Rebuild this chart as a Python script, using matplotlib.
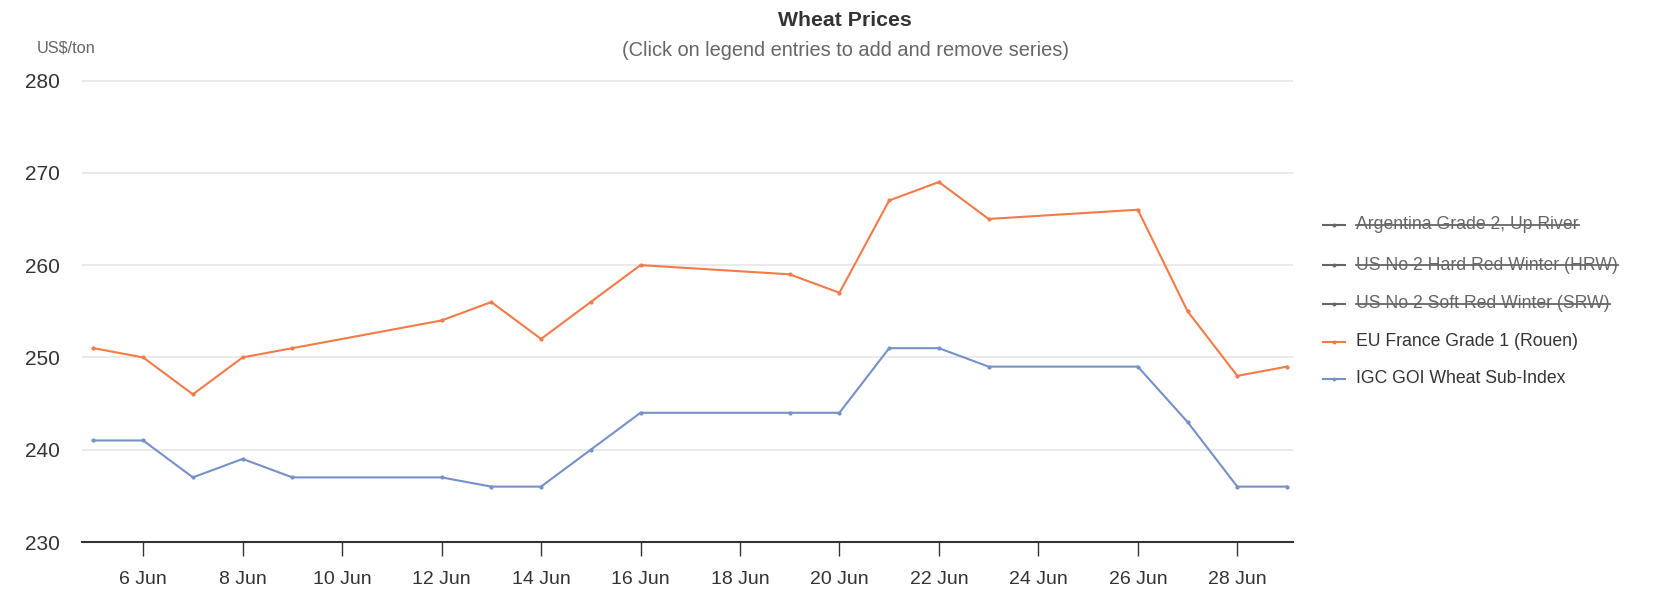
import matplotlib
matplotlib.use("Agg")
import matplotlib.pyplot as plt
import matplotlib.dates as mdates
from matplotlib.lines import Line2D
import numpy as np
from datetime import date

plt.rcParams['font.family'] = ['Liberation Sans', 'DejaVu Sans']

# ── Data ───────────────────────────────────────────────────────────────────────
days = [5, 6, 7, 8, 9, 12, 13, 14, 15, 16, 19, 20, 21, 22, 23, 26, 27, 28, 29]
eu_france = [251, 250, 246, 250, 251, 254, 256, 252, 256, 260, 259, 257, 267, 269, 265, 266, 255, 248, 249]
igc_goi = [241, 241, 237, 239, 237, 237, 236, 236, 240, 244, 244, 244, 251, 251, 249, 249, 243, 236, 236]

legend_names = ["Argentina Grade 2, Up River",
                "US No 2 Hard Red Winter (HRW)",
                "US No 2 Soft Red Winter (SRW)",
                "EU France Grade 1 (Rouen)",
                "IGC GOI Wheat Sub-Index"]
legend_hidden = [True, True, True, False, False]

ORANGE = "#f47a48"
BLUE = "#7591c8"
HIDDEN = "#666666"
colors = [HIDDEN, HIDDEN, HIDDEN, ORANGE, BLUE]

dates = [date(2023, 6, d) for d in days]

# ── Figure ─────────────────────────────────────────────────────────────────────
W, H = 1657, 590
fig = plt.figure(figsize=(W / 100, H / 100), dpi=100)
left, right, top, bottom = 82, 1293, 80.5, 542
ax = fig.add_axes([left / W, (H - bottom) / H, (right - left) / W, (bottom - top) / H])

ax.plot(dates, eu_france, color=ORANGE, lw=1.5, marker='o', ms=2.0, zorder=3)
ax.plot(dates, igc_goi, color=BLUE, lw=1.5, marker='o', ms=2.0, zorder=3)

ax.set_ylim(230, 280)
ax.set_yticks(range(230, 290, 10))
ax.set_xlim(mdates.date2num(date(2023, 6, 5)) - 0.23, mdates.date2num(date(2023, 6, 29)) + 0.12)
ax.xaxis.set_major_locator(mdates.DayLocator(bymonthday=range(6, 30, 2)))
ax.xaxis.set_major_formatter(mdates.DateFormatter('%-d %b'))

ax.grid(axis='y', color='#e6e6e6', lw=1.2)
ax.set_axisbelow(True)
for s in ['top', 'right', 'left']:
    ax.spines[s].set_visible(False)
ax.spines['bottom'].set_color('#333333')
ax.spines['bottom'].set_linewidth(1.5)

ax.tick_params(axis='y', length=0, pad=16, labelsize=15, labelcolor='#333333')
ax.tick_params(axis='x', length=10, width=1, color='#333333', pad=11, labelsize=14, labelcolor='#333333')

# ── Titles ─────────────────────────────────────────────────────────────────────
fig.text(845 / W, 1 - 21 / H, "Wheat Prices", ha='center', va='center', fontsize=15.3,
         fontweight='bold', color='#333333')
fig.text(845 / W, 1 - 51 / H, "(Click on legend entries to add and remove series)", ha='center',
         va='center', fontsize=14.4, color='#666666')
fig.text(37 / W, 1 - 47.5 / H, "US$/ton", ha='left', va='center', fontsize=11.8, color='#666666')

# ── Legend (manual, with struck-through hidden series) ────────────────────────
leg_y = [224.5, 265, 304, 341.5, 378.5]
texts = []
for name, hidden, c, y in zip(legend_names, legend_hidden, colors, leg_y):
    yf = 1 - y / H
    fig.add_artist(Line2D([1323 / W, 1345 / W], [yf, yf], color=c, lw=1.5,
                          transform=fig.transFigure))
    fig.add_artist(Line2D([1334 / W], [yf], color=c, marker='o', ms=1.8,
                          transform=fig.transFigure))
    t = fig.text(1356 / W, yf, name, ha='left', va='center', fontsize=12.7,
                 color=HIDDEN if hidden else '#333333')
    texts.append((t, hidden))

fig.canvas.draw()
renderer = fig.canvas.get_renderer()
for t, hidden in texts:
    if hidden:
        bb = t.get_window_extent(renderer)
        ym = (bb.y0 + bb.y1) / 2 / H
        fig.add_artist(Line2D([bb.x0 / W, bb.x1 / W], [ym, ym], color=HIDDEN, lw=1.3,
                              transform=fig.transFigure))

fig.savefig("out.png", dpi=100)
